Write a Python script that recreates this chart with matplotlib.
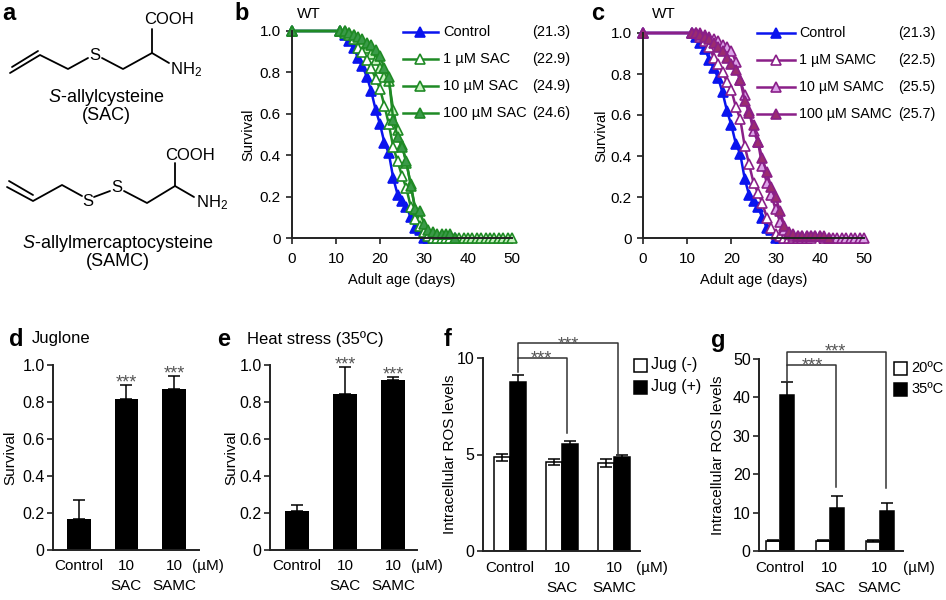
import numpy as np
import matplotlib
matplotlib.use("Agg")
import matplotlib.pyplot as plt
from matplotlib.patches import Rectangle

plt.rcParams['font.family'] = ['Liberation Sans', 'DejaVu Sans']
plt.rcParams['mathtext.fontset'] = 'custom'
plt.rcParams['mathtext.rm'] = 'Liberation Sans'
plt.rcParams['mathtext.it'] = 'Liberation Sans:italic'

W, H = 946, 600

# ---- survival curves (b, c) ----
days_ctrl = [0] + list(range(11, 38))
surv_ctrl = [1.0, 1.0, 0.98, 0.95, 0.92, 0.87, 0.83, 0.78, 0.71, 0.62, 0.55, 0.46, 0.41,
             0.29, 0.21, 0.18, 0.15, 0.10, 0.05, 0.04, 0.0, 0, 0, 0, 0, 0, 0, 0]

days_sac1 = [0] + list(range(11, 37))
surv_sac1 = [1.0, 1.0, 0.99, 0.98, 0.96, 0.92, 0.90, 0.86, 0.82, 0.77, 0.72, 0.64, 0.55,
             0.44, 0.37, 0.30, 0.24, 0.15, 0.09, 0.06, 0.03, 0.01, 0, 0, 0, 0, 0]
days_sac10 = [0] + list(range(11, 51))
surv_sac10 = [1.0, 1.0, 1.0, 0.99, 0.98, 0.96, 0.94, 0.92, 0.89, 0.86, 0.82, 0.78, 0.76,
              0.62, 0.52, 0.45, 0.36, 0.26, 0.14, 0.09, 0.06, 0.03, 0.02, 0.01, 0.01, 0.01,
              0.01, 0, 0, 0, 0, 0, 0, 0, 0, 0, 0, 0, 0, 0, 0]
days_sac100 = [0] + list(range(11, 38))
surv_sac100 = [1.0, 1.0, 1.0, 0.99, 0.98, 0.97, 0.96, 0.94, 0.93, 0.91, 0.88, 0.82, 0.78,
               0.57, 0.49, 0.44, 0.37, 0.25, 0.14, 0.13, 0.07, 0.04, 0.03, 0.02, 0.02,
               0.02, 0.02, 0]

days_samc1 = [0] + list(range(11, 39))
surv_samc1 = [1.0, 1.0, 1.0, 0.98, 0.96, 0.93, 0.88, 0.85, 0.81, 0.76, 0.72, 0.64, 0.58,
              0.45, 0.36, 0.27, 0.22, 0.17, 0.10, 0.05, 0.02, 0.01, 0, 0, 0, 0, 0, 0, 0]
days_samc10 = [0] + list(range(11, 51))
surv_samc10 = [1.0, 1.0, 1.0, 1.0, 0.99, 0.98, 0.97, 0.96, 0.94, 0.93, 0.91, 0.86, 0.77,
               0.70, 0.62, 0.52, 0.47, 0.35, 0.27, 0.21, 0.14, 0.08, 0.04, 0.02, 0.01,
               0.01, 0.01, 0.01, 0.01, 0.01, 0.01, 0, 0, 0, 0, 0, 0, 0, 0, 0, 0]
days_samc100 = [0] + list(range(11, 43))
surv_samc100 = [1.0, 1.0, 1.0, 0.99, 0.98, 0.97, 0.95, 0.93, 0.91, 0.88, 0.85, 0.82, 0.77,
                0.67, 0.61, 0.55, 0.47, 0.39, 0.32, 0.25, 0.20, 0.13, 0.06, 0.03, 0.02,
                0.01, 0.01, 0.01, 0.01, 0.01, 0.01, 0.01, 0]

labels_b = ['Control', '1 µM SAC', '10 µM SAC', '100 µM SAC']
means_b = ['(21.3)', '(22.9)', '(24.9)', '(24.6)']
labels_c = ['Control', '1 µM SAMC', '10 µM SAMC', '100 µM SAMC']
means_c = ['(21.3)', '(22.5)', '(25.5)', '(25.7)']

# ---- bar data (d-g) ----
groups = ['Control', '10', '10']
sub_groups = ['', 'SAC', 'SAMC']
jug_surv = [0.165, 0.815, 0.87]
jug_err = [0.105, 0.075, 0.07]
heat_surv = [0.21, 0.845, 0.92]
heat_err = [0.035, 0.145, 0.015]
ros_jug_minus = [4.85, 4.62, 4.55]
ros_jug_minus_err = [0.2, 0.15, 0.2]
ros_jug_plus = [8.75, 5.55, 4.85]
ros_jug_plus_err = [0.35, 0.15, 0.15]
ros_20 = [2.7, 2.7, 2.6]
ros_20_err = [0.2, 0.1, 0.2]
ros_35 = [40.5, 11.3, 10.4]
ros_35_err = [3.5, 2.9, 2.2]

BLUE = '#0a14ee'
GREEN = '#1f8a25'
GREEN_L = '#c8f2c0'
GREEN_D = '#3a9a48'
PURP = '#8a1f88'
PURP_L = '#dba2e8'
PURP_D = '#9a2c70'
STAR = '#555555'

fig = plt.figure(figsize=(W / 100, H / 100), dpi=100)


def px_axes(l, t, r, b):
    return fig.add_axes([l / W, 1 - b / H, (r - l) / W, (b - t) / H])


def style(ax, fs=10.5, pad=4):
    for s in ['top', 'right']:
        ax.spines[s].set_visible(False)
    for s in ['left', 'bottom']:
        ax.spines[s].set_linewidth(1.4)
        ax.spines[s].set_color('#222222')
    ax.tick_params(direction='out', length=4, width=1.2, labelsize=fs, colors='#222222',
                   labelcolor='black', pad=pad)


def surv_axes(ax, series):
    for d, s, col, fc in series:
        ax.plot(d, s, '-^', color=col, mfc=fc, mec=col, ms=7.5, lw=1.8, mew=1.2, clip_on=False)
    ax.set_xlim(0, 50)
    ax.set_ylim(0, 1)
    ax.set_xticks([0, 10, 20, 30, 40, 50])
    ax.set_yticks([0, 0.2, 0.4, 0.6, 0.8, 1.0])
    ax.set_yticklabels(['0', '0.2', '0.4', '0.6', '0.8', '1.0'])
    style(ax, 11)
    ax.tick_params(axis='x', pad=6)
    ax.set_xlabel('Adult age (days)', fontsize=10.5, labelpad=5)
    ax.set_ylabel('Survival', fontsize=10.5)


axb = px_axes(292, 31, 512, 238)
surv_axes(axb, [(days_ctrl, surv_ctrl, BLUE, BLUE),
                (days_sac10, surv_sac10, GREEN, GREEN_L),
                (days_sac1, surv_sac1, GREEN, 'white'),
                (days_sac100, surv_sac100, GREEN, GREEN_D)])
axb.yaxis.set_label_coords((255 - 292) / 220, 0.5)

axc = px_axes(643, 33, 864, 238)
surv_axes(axc, [(days_ctrl, surv_ctrl, BLUE, BLUE),
                (days_samc1, surv_samc1, PURP, 'white'),
                (days_samc10, surv_samc10, PURP, PURP_L),
                (days_samc100, surv_samc100, PURP, PURP_D)])
axc.yaxis.set_label_coords((608 - 643) / 221, 0.5)


def bar_axes(ax, vals, errs, ylim, yt, ytl, xlim, px_per_unit):
    x = np.arange(3)
    ax.bar(x, vals, width=0.5, color='black')
    ax.errorbar(x, vals, yerr=[np.zeros(3), errs], fmt='none', ecolor='black',
                elinewidth=1.1, capsize=4, capthick=1.1)
    ax.set_ylim(*ylim)
    ax.set_xlim(*xlim)
    ax.set_yticks(yt)
    ax.set_yticklabels(ytl)
    ax.set_xticks([])
    style(ax, 11.5, pad=2)
    ax.set_ylabel('Survival', fontsize=11)
    for i in [1, 2]:
        ax.text(x[i], vals[i] + errs[i] - 2.5 / px_per_unit, '***', ha='center',
                va='baseline', fontsize=13, color=STAR)


def group_labels(ax, xs, unit_x):
    tr = ax.get_xaxis_transform()
    for xi, g, s in zip(xs, groups, sub_groups):
        ax.text(xi, -0.05, g, transform=tr, ha='center', va='top', fontsize=11)
        ax.text(xi, -0.155, s, transform=tr, ha='center', va='top', fontsize=11)
    ax.text(unit_x, -0.05, '(µM)', transform=tr, ha='center', va='top', fontsize=11)


axd = px_axes(53, 365, 199, 550)
bar_axes(axd, jug_surv, jug_err, (0, 1), [0, 0.2, 0.4, 0.6, 0.8, 1.0],
         ['0', '0.2', '0.4', '0.6', '0.8', '1.0'], (-0.55, 2.53), 185)
axd.yaxis.set_label_coords((17 - 53) / 146, 0.5)
group_labels(axd, [0, 1, 2], 2.72)

axe = px_axes(270, 365, 417, 550)
bar_axes(axe, heat_surv, heat_err, (0, 1), [0, 0.2, 0.4, 0.6, 0.8, 1.0],
         ['0', '0.2', '0.4', '0.6', '0.8', '1.0'], (-0.56, 2.5), 185)
axe.yaxis.set_label_coords((238 - 270) / 147, 0.5)
group_labels(axe, [0, 1, 2], 2.7)


def ros_axes(ax, a, ae, b, be, w, ylim, yt, xlim):
    x = np.arange(3)
    ax.bar(x - w / 2, a, width=w, color='white', edgecolor='black', lw=1.1)
    ax.bar(x + w / 2, b, width=w, color='black', edgecolor='black', lw=1.1)
    ax.errorbar(x - w / 2, a, yerr=ae, fmt='none', ecolor='black', elinewidth=1.1,
                capsize=4, capthick=1.1)
    ax.errorbar(x + w / 2, b, yerr=be, fmt='none', ecolor='black', elinewidth=1.1,
                capsize=4, capthick=1.1)
    ax.set_ylim(*ylim)
    ax.set_xlim(*xlim)
    ax.set_yticks(yt)
    ax.set_xticks([])
    style(ax, 11.5, pad=2)
    ax.set_ylabel('Intracellular ROS levels', fontsize=11)


axf = px_axes(483, 358, 640, 551)
wf = 0.3
ros_axes(axf, ros_jug_minus, ros_jug_minus_err, ros_jug_plus, ros_jug_plus_err, wf,
         (0, 10), [0, 5, 10], (-0.52, 2.5))
axf.yaxis.set_label_coords((457 - 483) / 157, 0.5)
group_labels(axf, [0, 1, 2], 2.73)
# brackets
xs0 = wf / 2
axf.plot([xs0, xs0, 1 + xs0 / 2 + 0.03, 1 + xs0 / 2 + 0.03], [9.3, 10.0, 10.0, 6.1],
         color='#333333', lw=1.1, clip_on=False)
axf.plot([xs0, xs0, 2 + xs0 / 2, 2 + xs0 / 2], [10.0, 10.8, 10.8, 5.05],
         color='#333333', lw=1.1, clip_on=False)
axf.text(0.6, 9.74, '***', ha='center', va='baseline', fontsize=13, color=STAR)
axf.text(1.13, 10.45, '***', ha='center', va='baseline', fontsize=13, color=STAR)

axg = px_axes(759, 359, 903, 551)
wg = 0.28
ros_axes(axg, ros_20, ros_20_err, ros_35, ros_35_err, wg, (0, 50),
         [0, 10, 20, 30, 40, 50], (-0.42, 2.47))
axg.yaxis.set_label_coords((725 - 759) / 144, 0.5)
group_labels(axg, [0, 1, 2], 2.79)
axg.plot([wg / 2, wg / 2, 1.12, 1.12], [44.0, 48.4, 48.4, 16.7],
         color='#333333', lw=1.1, clip_on=False)
axg.plot([wg / 2, wg / 2, 2.12, 2.12], [48.4, 51.9, 51.9, 16.3],
         color='#333333', lw=1.1, clip_on=False)
axg.text(0.65, 47.1, '***', ha='center', va='baseline', fontsize=13, color=STAR)
axg.text(1.12, 50.6, '***', ha='center', va='baseline', fontsize=13, color=STAR)

# ---- overlay: panel a, letters, legends ----
ov = fig.add_axes([0, 0, 1, 1])
ov.set_xlim(0, W)
ov.set_ylim(H, 0)
ov.axis('off')
ov.patch.set_alpha(0)


def bond(pts, **kw):
    xs, ys = zip(*pts)
    ov.plot(xs, ys, color='black', lw=1.3, solid_capstyle='round', **kw)


# SAC
bond([(10, 73), (40, 55), (68, 69), (88, 58)])
bond([(12, 67), (38, 51)])
ov.text(95, 55, 'S', ha='center', va='center', fontsize=12)
bond([(102, 58), (123, 69), (152, 53), (152, 29)])
bond([(152, 53), (169, 63)])
ov.text(169, 19, 'COOH', ha='center', va='center', fontsize=12)
ov.text(170, 70, r'NH$_\mathregular{2}$', ha='left', va='center', fontsize=12)
ov.text(106, 98, r'$\mathit{S}$-allylcysteine', ha='center', va='center', fontsize=13)
ov.text(106, 116, '(SAC)', ha='center', va='center', fontsize=13)

# SAMC
bond([(7, 187), (33, 201), (62, 185), (82, 196)])
bond([(9, 181), (33, 195)])
ov.text(88, 202, 'S', ha='center', va='center', fontsize=12)
bond([(94, 197), (110, 191)])
ov.text(117, 188, 'S', ha='center', va='center', fontsize=12)
bond([(124, 191), (147, 203), (175, 186), (175, 163)])
bond([(175, 186), (194, 197)])
ov.text(190, 155, 'COOH', ha='center', va='center', fontsize=12)
ov.text(196, 203, r'NH$_\mathregular{2}$', ha='left', va='center', fontsize=12)
ov.text(118, 243, r'$\mathit{S}$-allylmercaptocysteine', ha='center', va='center', fontsize=13)
ov.text(118, 262, '(SAMC)', ha='center', va='center', fontsize=13)

# panel letters and titles
for lt, x, y in [('a', 9, 13), ('b', 242, 14), ('c', 598, 14), ('d', 16, 339),
                 ('e', 224, 339), ('f', 448, 339), ('g', 718, 340)]:
    ov.text(x, y, lt, ha='center', va='center', fontsize=17, fontweight='bold')
ov.text(297, 14, 'WT', ha='left', va='center', fontsize=11)
ov.text(652, 14, 'WT', ha='left', va='center', fontsize=11)
ov.text(32, 339, 'Juglone', ha='left', va='center', fontsize=12)
ov.text(247, 339, 'Heat stress (35ºC)', ha='left', va='center', fontsize=12)

# legends b, c
leg_y = [32, 59, 86, 113]
for i, (col, fc) in enumerate([(BLUE, BLUE), (GREEN, 'white'), (GREEN, GREEN_L),
                               (GREEN, GREEN_D)]):
    ov.plot([403, 438], [leg_y[i]] * 2, color=col, lw=1.8)
    ov.plot([420], [leg_y[i]], '^', color=col, mfc=fc, mec=col, ms=7.5, mew=1.2)
    ov.text(443, leg_y[i], labels_b[i], ha='left', va='center', fontsize=10.5)
    ov.text(532, leg_y[i], means_b[i], ha='left', va='center', fontsize=10.5)
for i, (col, fc) in enumerate([(BLUE, BLUE), (PURP, 'white'), (PURP, PURP_L),
                               (PURP, PURP_D)]):
    ov.plot([757, 795], [leg_y[i] + 1] * 2, color=col, lw=1.8)
    ov.plot([776], [leg_y[i] + 1], '^', color=col, mfc=fc, mec=col, ms=7.5, mew=1.2)
    ov.text(799, leg_y[i] + 1, labels_c[i], ha='left', va='center', fontsize=10.3)
    ov.text(898, leg_y[i] + 1, means_c[i], ha='left', va='center', fontsize=10.3)

# legends f, g
for (x0, ys, labs, fs) in [(634, [365, 387], ['Jug (-)', 'Jug (+)'], 11.5),
                           (894, [368, 389], ['20ºC', '35ºC'], 10.5)]:
    for y, lab, fc in zip(ys, labs, ['white', 'black']):
        ov.add_patch(Rectangle((x0, y - 6.5), 13, 13, facecolor=fc, edgecolor='black', lw=1.1))
        ov.text(x0 + 17, y, lab, ha='left', va='center', fontsize=fs)

fig.savefig('out.png', dpi=100)
